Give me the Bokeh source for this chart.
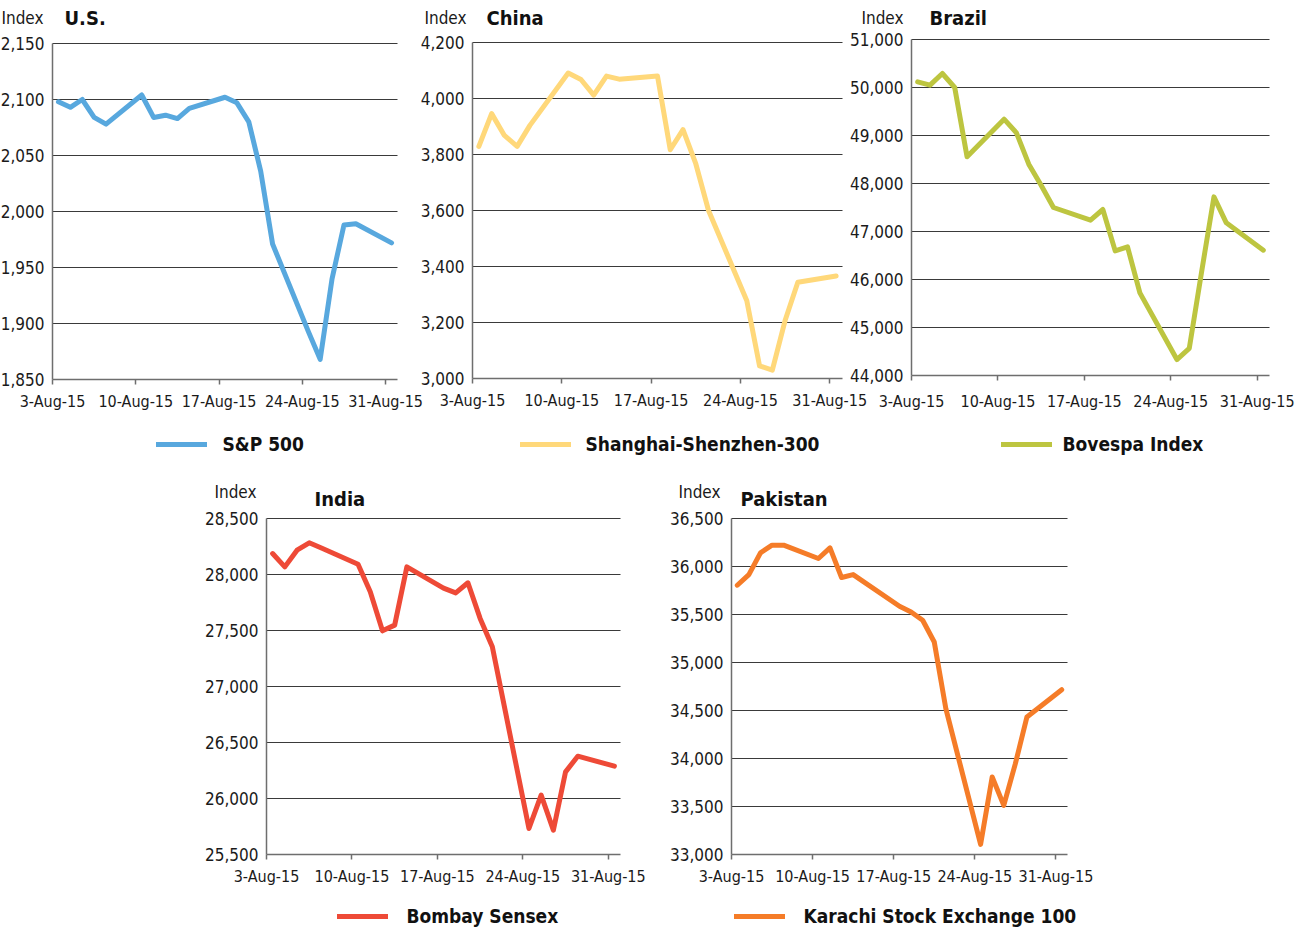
from bokeh.plotting import figure
from bokeh.models import (Range1d, FixedTicker, NumeralTickFormatter, Label,
                          Legend, LegendItem, LinearAxis)
from bokeh.embed import file_html
from bokeh.resources import INLINE

FONT = "DejaVu Sans Condensed"

# ---------------- data (August 2015 trading days, index closes) ----------------
x_tick_days = [3, 10, 17, 24, 31]
x_tick_labels = ["3-Aug-15", "10-Aug-15", "17-Aug-15", "24-Aug-15", "31-Aug-15"]

us_days = [3, 4, 5, 6, 7, 10, 11, 12, 13, 14, 17, 18, 19, 20, 21, 24, 25, 26, 27, 28, 31]
us_values = [2098, 2093, 2100, 2084, 2078, 2104, 2084, 2086, 2083, 2092, 2102, 2097,
             2080, 2036, 1971, 1893, 1868, 1940, 1988, 1989, 1972]
us_yticks = [1850, 1900, 1950, 2000, 2050, 2100, 2150]

china_days = [3, 4, 5, 6, 7, 10, 11, 12, 13, 14, 17, 18, 19, 20, 21, 24, 25, 26, 27, 28, 31]
china_values = [3829, 3946, 3868, 3829, 3904, 4091, 4068, 4012, 4080, 4069, 4080, 3817,
                3889, 3767, 3600, 3278, 3045, 3030, 3207, 3344, 3366]
china_yticks = [3000, 3200, 3400, 3600, 3800, 4000, 4200]

brazil_days = [3, 4, 5, 6, 7, 10, 11, 12, 13, 14, 17, 18, 19, 20, 21, 24, 25, 26, 27, 28, 31]
brazil_values = [50118, 50049, 50292, 50000, 48556, 49340, 49056, 48403, 47965, 47500,
                 47236, 47458, 46597, 46680, 45722, 44333, 44563, 46160, 47722, 47180, 46611]
brazil_yticks = [44000, 45000, 46000, 47000, 48000, 49000, 50000, 51000]

india_days = [3, 4, 5, 6, 7, 10, 11, 12, 13, 14, 17, 18, 19, 20, 21, 24, 25, 26, 27, 28, 31]
india_values = [28187, 28068, 28217, 28283, 28236, 28092, 27845, 27497, 27548, 28068,
                27878, 27836, 27926, 27608, 27354, 25732, 26030, 25717, 26238, 26378, 26289]
india_yticks = [25500, 26000, 26500, 27000, 27500, 28000, 28500]

pak_days = [3, 4, 5, 6, 7, 10, 11, 12, 13, 17, 18, 19, 20, 21, 24, 25, 26, 27, 28, 31]
pak_values = [35805, 35916, 36142, 36222, 36222, 36083, 36194, 35885, 35916, 35586,
              35527, 35440, 35214, 34519, 33105, 33807, 33512, 33946, 34433, 34717]
pak_yticks = [33000, 33500, 34000, 34500, 35000, 35500, 36000, 36500]

# ---------------- canvas ----------------
W, H = 1300, 930
TEXT = "#1a1a1a"
AXIS = "#6e6e6e"
GRID = "#3a3a3a"

p = figure(width=W, height=H, x_range=Range1d(0, W), y_range=Range1d(0, H),
           x_axis_location=None, y_axis_location=None, min_border=0,
           outline_line_color=None, toolbar_location=None, output_backend="svg",
           background_fill_color="white", border_fill_color="white")
p.grid.visible = False

extra_x, extra_y = {}, {}
legends = []


def add_chart(name, country, series, days, values, color, yticks,
              L, R, T, B, idx_right, idx_cy, title_left, title_cy,
              leg_left, leg_cy, leg_standoff, xlab_standoff):
    span = 29.0
    kx = span / (R - L)
    extra_x[name] = Range1d(0 - L * kx, span + (W - R) * kx)
    y0, y1 = yticks[0], yticks[-1]
    ky = (y1 - y0) / (B - T)
    extra_y[name] = Range1d(y0 - (H - B) * ky, y1 + T * ky)

    grid_y = yticks[1:]
    p.segment(x0=[0] * len(grid_y), x1=[span] * len(grid_y), y0=grid_y, y1=grid_y,
              x_range_name=name, y_range_name=name, line_color=GRID, line_width=1.2)

    xs = [d - 3 + 0.5 for d in days]
    r = p.line(xs, values, x_range_name=name, y_range_name=name,
               line_color=color, line_width=5, line_join="round", line_cap="round")

    xa = LinearAxis(x_range_name=name, y_range_name=name, fixed_location=y0,
                    bounds=(0, span),
                    ticker=FixedTicker(ticks=[d - 3 for d in x_tick_days]),
                    major_label_overrides={d - 3: lab for d, lab in zip(x_tick_days, x_tick_labels)},
                    major_tick_out=5, major_tick_in=0, minor_tick_out=0, minor_tick_in=0,
                    axis_line_color=AXIS, axis_line_width=1.5,
                    major_tick_line_color=AXIS, major_tick_line_width=1.5,
                    major_label_text_font=FONT, major_label_text_font_size="16px",
                    major_label_text_color=TEXT, major_label_standoff=xlab_standoff)
    p.add_layout(xa, "below")

    ya = LinearAxis(x_range_name=name, y_range_name=name, fixed_location=0,
                    bounds=(y0, y1), ticker=FixedTicker(ticks=yticks),
                    formatter=NumeralTickFormatter(format="0,0"),
                    major_tick_out=0, major_tick_in=0, minor_tick_out=0, minor_tick_in=0,
                    axis_line_color=AXIS, axis_line_width=1.5,
                    major_label_text_font=FONT, major_label_text_font_size="17px",
                    major_label_text_color=TEXT, major_label_standoff=8)
    p.add_layout(ya, "left")

    p.add_layout(Label(x=idx_right, y=H - idx_cy, text="Index", text_font=FONT,
                       text_font_size="17px", text_color=TEXT,
                       text_align="right", text_baseline="middle"))
    p.add_layout(Label(x=title_left, y=H - title_cy, text=country, text_font=FONT,
                       text_font_size="20px", text_font_style="bold", text_color="#111111",
                       text_align="left", text_baseline="middle"))

    gh = 20
    leg = Legend(items=[LegendItem(label=series, renderers=[r])],
                 location=(leg_left + 2.5, H - leg_cy - gh / 2), orientation="horizontal",
                 glyph_width=51, glyph_height=gh, label_standoff=leg_standoff,
                 label_text_font=FONT, label_text_font_size="19px",
                 label_text_font_style="bold", label_text_color="#111111",
                 label_text_baseline="middle",
                 border_line_color=None, background_fill_alpha=0,
                 padding=0, margin=0)
    legends.append(leg)


add_chart("us", "U.S.", "S&P 500", us_days, us_values, "#58A8DE", us_yticks,
          52, 397, 43, 379, 43, 17, 64, 17, 153, 445, 16, 7)
add_chart("china", "China", "Shanghai-Shenzhen-300", china_days, china_values, "#FFD87A",
          china_yticks, 472, 842, 42, 378, 466, 17, 486, 17, 517, 445, 15, 7)
add_chart("brazil", "Brazil", "Bovespa Index", brazil_days, brazil_values, "#BDC540",
          brazil_yticks, 911, 1269, 39, 375, 903, 17, 929, 17, 998, 445, 11, 11)
add_chart("india", "India", "Bombay Sensex", india_days, india_values, "#EE4A37",
          india_yticks, 266, 620, 518, 854, 256, 491, 314, 498, 334, 917, 19, 7)
add_chart("pak", "Pakistan", "Karachi Stock Exchange 100", pak_days, pak_values, "#F57C28",
          pak_yticks, 731, 1067, 518, 854, 720, 491, 740, 498, 731, 917, 19, 7)

p.extra_x_ranges = extra_x
p.extra_y_ranges = extra_y
for leg in legends:
    p.add_layout(leg, "center")

open("out.html", "w").write(file_html(p, INLINE))
